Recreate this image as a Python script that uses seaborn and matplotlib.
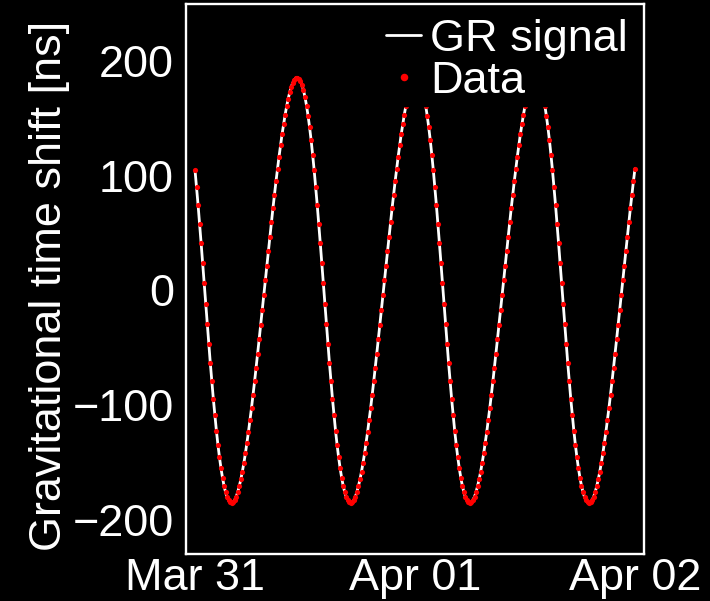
import matplotlib
matplotlib.use("Agg")
import matplotlib.pyplot as plt
from matplotlib.ticker import MultipleLocator
import pandas as pd
import seaborn as sns

# ---- data (10-minute samples, Mar 31 00:00 -> Apr 02 00:00) ----
sample_start = "2016-03-31 00:00"
sample_step = "10min"

gr_signal_ns = [
    104.7, 90.0, 74.4, 58.0, 41.0, 23.6, 6.0, -11.7, -29.3, -46.6,
    -63.4, -79.5, -94.9, -109.2, -122.5, -134.7, -145.6, -155.2, -163.5, -170.5,
    -176.1, -180.4, -183.3, -185.0, -185.5, -184.7, -182.8, -179.9, -175.8, -170.8,
    -164.9, -158.1, -150.5, -142.2, -133.1, -123.4, -113.1, -102.4, -91.1, -79.5,
    -67.5, -55.2, -42.7, -30.0, -17.2, -4.4, 8.5, 21.4, 34.2, 46.8,
    59.2, 71.4, 83.3, 94.8, 105.9, 116.5, 126.6, 136.1, 144.9, 153.1,
    160.4, 166.9, 172.6, 177.3, 180.9, 183.6, 185.1, 185.4, 184.6, 182.5,
    179.1, 174.4, 168.4, 161.0, 152.2, 142.2, 130.9, 118.3,
    104.7, 90.0, 74.4, 58.0, 41.0, 23.6, 6.0, -11.7, -29.3, -46.6,
    -63.4, -79.5, -94.9, -109.2, -122.5, -134.7, -145.6, -155.2, -163.5, -170.5,
    -176.1, -180.4, -183.3, -185.0, -185.5, -184.7, -182.8, -179.9, -175.8, -170.8,
    -164.9, -158.1, -150.5, -142.2, -133.1, -123.4, -113.1, -102.4, -91.1, -79.5,
    -67.5, -55.2, -42.7, -30.0, -17.2, -4.4, 8.5, 21.4, 34.2, 46.8,
    59.2, 71.4, 83.3, 94.8, 105.9, 116.5, 126.6, 136.1, 144.9, 153.1,
    160.4, 166.9, 172.6, 177.3, 180.9, 183.6, 185.1, 185.4, 184.6, 182.5,
    179.1, 174.4, 168.4, 161.0, 152.2, 142.2, 130.9, 118.3,
    104.7, 90.0, 74.4, 58.0, 41.0, 23.6, 6.0, -11.7, -29.3, -46.6,
    -63.4, -79.5, -94.9, -109.2, -122.5, -134.7, -145.6, -155.2, -163.5, -170.5,
    -176.1, -180.4, -183.3, -185.0, -185.5, -184.7, -182.8, -179.9, -175.8, -170.8,
    -164.9, -158.1, -150.5, -142.2, -133.1, -123.4, -113.1, -102.4, -91.1, -79.5,
    -67.5, -55.2, -42.7, -30.0, -17.2, -4.4, 8.5, 21.4, 34.2, 46.8,
    59.2, 71.4, 83.3, 94.8, 105.9, 116.5, 126.6, 136.1, 144.9, 153.1,
    160.4, 166.9, 172.6, 177.3, 180.9, 183.6, 185.1, 185.4, 184.6, 182.5,
    179.1, 174.4, 168.4, 161.0, 152.2, 142.2, 130.9, 118.3,
    104.7, 90.0, 74.4, 58.0, 41.0, 23.6, 6.0, -11.7, -29.3, -46.6,
    -63.4, -79.5, -94.9, -109.2, -122.5, -134.7, -145.6, -155.2, -163.5, -170.5,
    -176.1, -180.4, -183.3, -185.0, -185.5, -184.7, -182.8, -179.9, -175.8, -170.8,
    -164.9, -158.1, -150.5, -142.2, -133.1, -123.4, -113.1, -102.4, -91.1, -79.5,
    -67.5, -55.2, -42.7, -30.0, -17.2, -4.4, 8.5, 21.4, 34.2, 46.8,
    59.2, 71.4, 83.3, 94.8, 105.9,
]
# the measured points lie on the GR curve at the picture's resolution
data_ns = list(gr_signal_ns)

x_tick_dates = ["2016-03-31", "2016-04-01", "2016-04-02"]
x_tick_labels = ["Mar 31", "Apr 01", "Apr 02"]
y_ticks = [-200, -100, 0, 100, 200]
y_label = "Gravitational time shift [ns]"
legend_labels = ["GR signal", "Data"]

# ---- style ----
sns.set_theme(style="white")
plt.rcParams["font.family"] = ["Liberation Sans", "DejaVu Sans"]
plt.rcParams["axes.unicode_minus"] = True
FS = 32.4

times = pd.date_range(sample_start, periods=len(gr_signal_ns), freq=sample_step)
df = pd.DataFrame({"time": times, "gr": gr_signal_ns, "data": data_ns})

fig = plt.figure(figsize=(7.1, 6.01), dpi=100, facecolor="black")
ax = fig.add_axes([186 / 710, 1 - 554 / 601, (643.5 - 186) / 710, (554 - 3.5) / 601])
ax.set_facecolor("black")

sns.lineplot(data=df, x="time", y="gr", color="white", linewidth=2.0,
             ax=ax, label=legend_labels[0], zorder=2)
sns.scatterplot(data=df, x="time", y="data", color="red", s=14, linewidth=0,
                ax=ax, label=legend_labels[1], zorder=3)

t0 = pd.Timestamp(sample_start)
ax.set_xlim(t0 - pd.Timedelta(minutes=59), t0 + pd.Timedelta(minutes=2936))
ax.set_ylim(-230, 250)

ax.set_xticks(pd.to_datetime(x_tick_dates))
ax.set_xticklabels(x_tick_labels)
ax.set_yticks(y_ticks)
ax.yaxis.set_minor_locator(MultipleLocator(20))

ax.tick_params(which="both", direction="in", colors="white", top=False, right=False,
               labelcolor="white", labelsize=FS)
ax.tick_params(which="major", length=3.6, width=1.1)
ax.tick_params(which="minor", length=2.4, width=1.0)
ax.tick_params(axis="y", which="major", pad=8.6)
ax.tick_params(axis="x", which="major", pad=3.0)

for sp in ax.spines.values():
    sp.set_color("white")
    sp.set_linewidth(1.7)

ax.set_xlabel("")
ax.set_ylabel(y_label, color="white", fontsize=FS)
ax.yaxis.set_label_coords(-0.2546, 0.487)

leg = ax.legend(loc="upper right", bbox_to_anchor=(1, 1), borderaxespad=0.24,
                borderpad=0.1, labelspacing=0.02, handlelength=0.78,
                handletextpad=0.2, markerscale=1.45, scatteryoffsets=[0.5],
                frameon=True, facecolor="black", edgecolor="black", framealpha=1,
                fancybox=False, fontsize=FS)
for txt in leg.get_texts():
    txt.set_color("white")

fig.savefig("out.png", dpi=100, facecolor="black")
